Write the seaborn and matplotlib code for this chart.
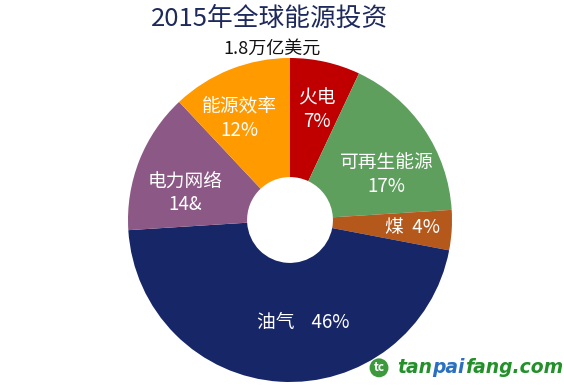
import numpy as np
import seaborn as sns
import matplotlib.pyplot as plt

# data
categories = ["火电", "可再生能源", "煤", "油气", "电力网络", "能源效率"]
shares = [7, 17, 4, 46, 14, 12]
pct_labels = ["7%", "17%", "4%", "46%", "14&", "12%"]
colors = ["#C00000", "#5E9F5E", "#B5581C", "#172667", "#8C5886", "#FF9A00"]

# where each label sits (radius fraction, angle nudge in degrees, one or two lines)
label_r = [0.70, 0.66, 0.76, 0.64, 0.67, 0.70]
label_nudge = [-1, -9, 0, 11, 7, 5]
two_lines = [True, True, False, False, True, True]

sns.set_theme(style="white")
plt.rcParams["font.family"] = ["Noto Sans CJK SC", "DejaVu Sans"]

fig = plt.figure(figsize=(5.64, 3.88), dpi=100)
fig.patch.set_facecolor("white")
ax = fig.add_axes([128 / 564, 6 / 388, 324 / 564, 324 / 388])

wedges, _ = ax.pie(
    shares,
    colors=colors,
    startangle=90,
    counterclock=False,
    radius=1.0,
    wedgeprops=dict(width=0.735, linewidth=0),
)
ax.set_xlim(-1, 1)
ax.set_ylim(-1, 1)
ax.set_aspect("equal")
ax.axis("off")

for w, name, pct, r, nudge, tl in zip(wedges, categories, pct_labels,
                                       label_r, label_nudge, two_lines):
    ang = np.deg2rad((w.theta1 + w.theta2) / 2 + nudge)
    x, y = r * np.cos(ang), r * np.sin(ang)
    if tl:
        txt = f"{name}\n{pct}"
        ls = 1.15
    elif name == "油气":
        txt = f"{name}    {pct}"
        ls = 1.0
    else:
        txt = f"{name}  {pct}"
        ls = 1.0
    ax.text(x, y, txt, ha="center", va="center", color="white",
            fontsize=13.5, linespacing=ls)

fig.text(0.478, 0.952, "2015年全球能源投资", ha="center", va="center",
         fontsize=18.5, color="#1F2A5C")
fig.text(0.483, 0.875, "1.8万亿美元", ha="center", va="center",
         fontsize=13, color="#111111")

# watermark
fig.text(0.672, 0.052, "tc", ha="center", va="center", fontsize=8.5,
         color="white", fontweight="bold",
         bbox=dict(boxstyle="circle,pad=0.25", fc="#3C9A3C", ec="none"))
wm_kw = dict(fontsize=13.5, fontweight="bold", style="italic",
             va="center", family="DejaVu Sans")
t1 = fig.text(0.705, 0.052, "tan", color="#23902A", **wm_kw)
fig.canvas.draw()
bb = t1.get_window_extent()
t2 = fig.text(bb.x1 / fig.bbox.width, 0.052, "pai", color="#2A6FC0", **wm_kw)
bb = t2.get_window_extent()
fig.text(bb.x1 / fig.bbox.width, 0.052, "fang.com", color="#23902A", **wm_kw)

fig.savefig("out.png", dpi=100, facecolor="white")
